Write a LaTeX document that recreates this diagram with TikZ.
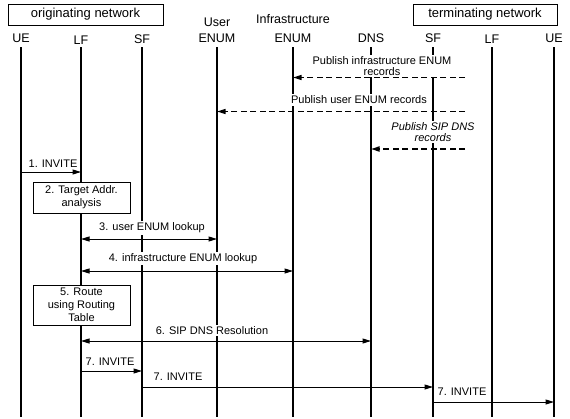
\documentclass[tikz,border=0pt]{standalone}
\usepackage{fontspec}
\setmainfont{Liberation Sans}
\usetikzlibrary{arrows.meta}
\begin{document}
\begin{tikzpicture}[x=1pt,y=-1pt,
  tip/.tip={Triangle[length=8.5pt,width=5pt]},
  lifeline/.style={line width=1.1pt},
  msg/.style={line width=1pt,-tip},
  dmsg/.style={line width=1pt,tip-tip},
  pub/.style={line width=1.3pt,dash pattern=on 6pt off 3.5pt,-tip},
  pubbold/.style={pub,line width=1.7pt},
  head/.style={font=\fontsize{12.5}{14}\selectfont,inner sep=1pt},
  lbl/.style={font=\fontsize{11}{11.5}\selectfont,fill=white,inner sep=1.5pt,align=center},
  netbox/.style={draw,line width=1pt,minimum height=21pt,font=\fontsize{13}{15}\selectfont},
  procbox/.style={draw,fill=white,line width=1pt,align=center,minimum width=97pt,font=\fontsize{11}{12.8}\selectfont}
]
\useasboundingbox[fill=white] (0,0) rectangle (570,418);

% network boxes
\node[netbox,minimum width=155pt] (orig) at (85.5,14.5) {originating network};
\node[netbox,minimum width=144pt] (term) at (485,14.5) {terminating network};

% lifeline heads
\node[head] (ue1) at (21,38) {UE};
\node[head] (lf1) at (81,40) {LF};
\node[head] (sf1) at (142,39) {SF};
\node[head] (uenumtop) at (217,22) {User};
\node[head] (uenum) at (217,38.5) {ENUM};
\node[head] (ienumtop) at (293,19) {Infrastructure};
\node[head] (ienum) at (293,38.5) {ENUM};
\node[head] (dns) at (371,38.5) {DNS};
\node[head] (sf2) at (433,38.5) {SF};
\node[head] (lf2) at (492,39) {LF};
\node[head] (ue2) at (554,38.5) {UE};

% lifelines
\foreach \n in {ue1,lf1,sf1,uenum,ienum,dns,sf2,lf2,ue2}
  \draw[lifeline] (\n |- 0,47) -- (\n |- 0,417);

% publishing
\node[lbl] (l0) at (382,66) {Publish infrastructure ENUM\\records};
\coordinate (src0) at (465,77.5);
\draw[pub] (src0) -- (ienum |- src0);

\node[lbl] (l1) at (359,100) {Publish user ENUM records};
\coordinate (src1) at (465,111.5);
\draw[pub] (src1) -- (uenum |- src1);

\node[lbl,font=\fontsize{11}{11.5}\selectfont\itshape] (l2) at (433,132) {Publish SIP DNS\\records};
\coordinate (src2) at (465,149);
\draw[pubbold] (src2) -- (dns |- src2);

% 1. INVITE
\node[lbl,fill=none] (m1) at (53,164) {1. INVITE};
\draw[msg] (ue1 |- 0,172) -- (lf1 |- 0,172);

% 2. box
\node[procbox,minimum height=31pt] (b2) at (81.5,197.5) {2. Target Addr.\\analysis};

% 3.
\node[lbl] (m3) at (152,228) {3. user ENUM lookup};
\draw[dmsg] (lf1 |- 0,239) -- (uenum |- 0,239);

% 4.
\node[lbl] (m4) at (183,258.5) {4. infrastructure ENUM lookup};
\draw[dmsg] (lf1 |- 0,271) -- (ienum |- 0,271);

% 5. box
\node[procbox,minimum height=40pt] (b5) at (81.5,305) {5. Route\\using Routing\\Table};

% 6.
\node[lbl] (m6) at (212,330.5) {6. SIP DNS Resolution};
\draw[dmsg] (lf1 |- 0,341) -- (dns |- 0,341);

% 7.
\node[lbl] (m7a) at (110,362) {7. INVITE};
\draw[msg] (lf1 |- 0,371) -- (sf1 |- 0,371);
\node[lbl] (m7b) at (178,377) {7. INVITE};
\draw[msg] (sf1 |- 0,387) -- (sf2 |- 0,387);
\node[lbl] (m7c) at (462,392) {7. INVITE};
\draw[msg] (sf2 |- 0,402) -- (ue2 |- 0,402);
\end{tikzpicture}
\end{document}
